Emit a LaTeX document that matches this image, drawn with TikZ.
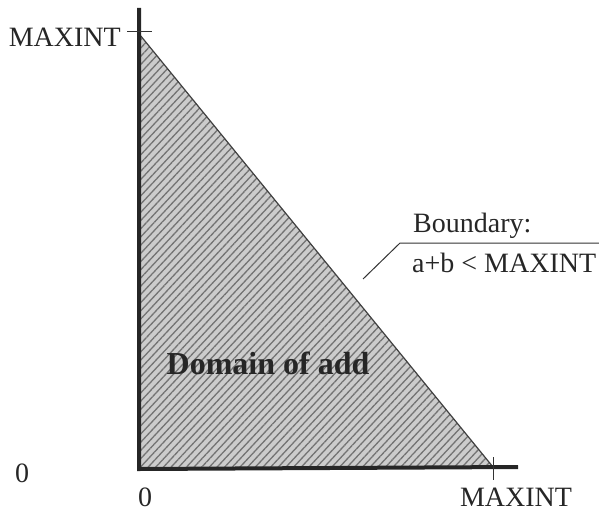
\documentclass[tikz,border=0pt]{standalone}
\usepackage{fontspec}
\setmainfont{Liberation Serif}
\usetikzlibrary{patterns.meta}
\begin{document}
\begin{tikzpicture}[x=1pt,y=-1pt,
  axis/.style={line width=4pt,draw=black!85},
  tick/.style={line width=1pt,draw=black!80},
  lbl/.style={font=\fontsize{28}{31}\selectfont,text=black!85,inner sep=0pt},
  region/.style={fill=black!20,draw=none}
]
\useasboundingbox (0,0) rectangle (599,511);
% region
\coordinate (top) at (140,35);
\coordinate (orig) at (140,467);
\coordinate (right) at (493,467);
\fill[region] (top) -- (orig) -- (right) -- cycle;
\fill[pattern={Lines[angle=47,distance=5.6pt,line width=1.3pt]},pattern color=black!55] (top) -- (orig) -- (right) -- cycle;
\draw[black!75,line width=1.2pt] (top) -- (right);
% axes
\coordinate (ytop) at (139,8);
\coordinate (xend) at (518,467);
\draw[axis] (ytop) -- (139,469) -- (xend);
% ticks
\coordinate (t1a) at (127,32); \coordinate (t1b) at (152,32);
\draw[tick] (t1a) -- (t1b);
\coordinate (t2a) at (493,457); \coordinate (t2b) at (493,480);
\draw[tick] (t2a) -- (t2b);
% labels
\node[lbl,anchor=east] (ymax) at (121,37) {MAXINT};
\node[lbl] (y0) at (22,473) {0};
\node[lbl] (x0) at (145,497) {0};
\node[lbl] (xmax) at (516,497) {MAXINT};
\node[inner sep=0pt,font=\bfseries\fontsize{32}{35}\selectfont,text=black!85] (dom) at (268,363) {Domain of add};
% boundary callout
\coordinate (b1) at (363,279);
\coordinate (b2) at (400,243);
\coordinate (b3) at (599,243);
\draw[black!80,line width=1pt] (b1) -- (b2) -- (b3);
\node[lbl,anchor=west] (bd) at (413,226) {Boundary:};
\node[lbl,anchor=west] (eq) at (412,263) {a+b < MAXINT};
\end{tikzpicture}
\end{document}
